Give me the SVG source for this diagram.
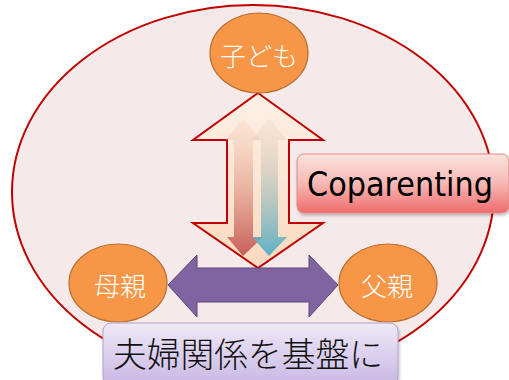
<svg xmlns="http://www.w3.org/2000/svg" width="509" height="380" viewBox="0 0 509 380">
<defs>
  <linearGradient id="gBig" x1="0" y1="0" x2="0" y2="1">
    <stop offset="0" stop-color="#fdf0e6"/>
    <stop offset="1" stop-color="#f9d9bf"/>
  </linearGradient>
  <linearGradient id="gRed" x1="0" y1="0" x2="0" y2="1">
    <stop offset="0" stop-color="#f6c6a8" stop-opacity="0.2"/>
    <stop offset="1" stop-color="#c0504d"/>
  </linearGradient>
  <linearGradient id="gTeal" x1="0" y1="0" x2="0" y2="1">
    <stop offset="0" stop-color="#f4c8a8" stop-opacity="0.2"/>
    <stop offset="1" stop-color="#4bacc6"/>
  </linearGradient>
  <linearGradient id="gCop" x1="0" y1="0" x2="0" y2="1">
    <stop offset="0" stop-color="#fce4dc"/>
    <stop offset="0.5" stop-color="#f6b8b4"/>
    <stop offset="1" stop-color="#ef6b6b"/>
  </linearGradient>
  <linearGradient id="gBase" x1="0" y1="0" x2="0" y2="1">
    <stop offset="0" stop-color="#efe9f7"/>
    <stop offset="1" stop-color="#c8b8e4"/>
  </linearGradient>
  <filter id="sh" x="-10%" y="-10%" width="130%" height="140%">
    <feDropShadow dx="1" dy="2" stdDeviation="1.5" flood-color="#000" flood-opacity="0.25"/>
  </filter>
</defs>
<style>
  .node { fill: #f79646; stroke: #b66d31; stroke-width: 1.2; }
  .ntext { font-family: "Noto Sans CJK JP", "Noto Sans CJK SC", sans-serif; font-weight: 300; font-size: 26px; fill: #ffffff; text-anchor: middle; }
</style>

<g id="frame">
  <ellipse cx="253" cy="192" rx="241" ry="187" fill="#f6e9e9" stroke="#c00000" stroke-width="2"/>
</g>

<g id="connectors">
  <path id="vArrow" d="M258,93 L323,140 L289,140 L289,223 L323,223 L258,268 L193,223 L227,223 L227,140 L193,140 Z" fill="url(#gBig)" stroke="#c00000" stroke-width="2" stroke-linejoin="miter"/>
  <path id="redArrow" d="M243,118 L261,140 L253,140 L253,237 L263,237 L243,256 L227,237 L234,237 L234,140 L225,140 Z" fill="url(#gRed)" opacity="0.9"/>
  <path id="tealArrow" d="M269,118 L287,140 L278,140 L278,237 L287,237 L269,256 L252,237 L261,237 L261,140 L252,140 Z" fill="url(#gTeal)" opacity="0.9"/>
  <path id="hArrow" d="M168,285 L197,255 L197,268 L309,268 L309,255 L338,285 L309,317 L309,302 L197,302 L197,317 Z" fill="#8064a2" stroke="#5c4776" stroke-width="1"/>
</g>

<g id="child">
  <ellipse class="node" cx="259" cy="53" rx="49" ry="40"/>
  <text class="ntext" x="259" y="66">子ども</text>
</g>

<g id="mother">
  <ellipse class="node" cx="118" cy="283" rx="49" ry="39"/>
  <text class="ntext" x="120" y="296">母親</text>
</g>

<g id="father">
  <ellipse class="node" cx="388" cy="283" rx="49" ry="39"/>
  <text class="ntext" x="387" y="296">父親</text>
</g>

<g id="coparenting">
  <rect x="297" y="154" width="212" height="59" rx="7" fill="url(#gCop)" stroke="#e08a8a" stroke-width="1" filter="url(#sh)"/>
  <text x="307" y="196" font-family="DejaVu Sans, sans-serif" font-size="33" fill="#000" textLength="186" lengthAdjust="spacingAndGlyphs">Coparenting</text>
</g>

<g id="base">
  <rect x="103" y="323" width="295" height="62" rx="8" fill="url(#gBase)" stroke="#b3a2c7" stroke-width="1" filter="url(#sh)"/>
  <text x="113" y="367" font-family="Noto Sans CJK JP, Noto Sans CJK SC, sans-serif" font-weight="300" font-size="34" fill="#111" textLength="270" lengthAdjust="spacingAndGlyphs">夫婦関係を基盤に</text>
</g>
</svg>
